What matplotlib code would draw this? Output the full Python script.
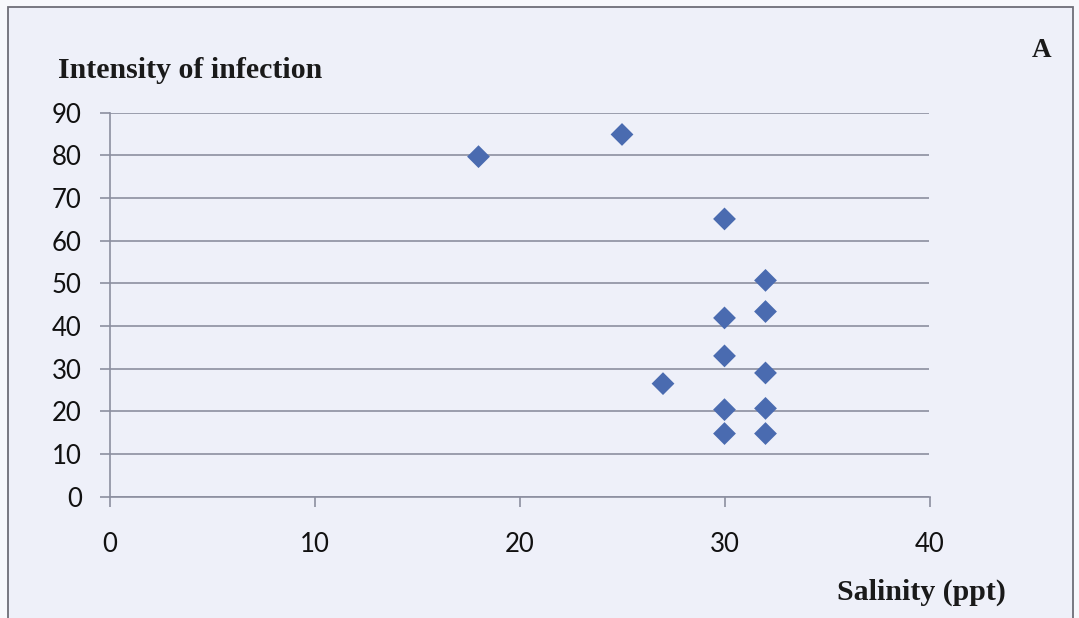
import matplotlib.pyplot as plt
from matplotlib.patches import Rectangle

# salinity (ppt) vs intensity of infection
salinity = [18, 25, 30, 32, 32, 30, 30, 27, 32, 30, 32, 30, 32]
intensity = [79.7, 84.9, 65.1, 50.7, 43.4, 41.9, 33.0, 26.5, 29.0, 20.4, 20.7, 14.8, 14.8]

x_ticks = [0, 10, 20, 30, 40]
y_ticks = [0, 10, 20, 30, 40, 50, 60, 70, 80, 90]

bg = '#eef0f9'
grid_col = '#8c8fa0'
marker_col = '#4a6bb0'

fig = plt.figure(figsize=(10.79, 6.18), dpi=100)
fig.patch.set_facecolor('#f7f8fc')

# chart frame
fig.patches.append(Rectangle((8 / 1079, -0.05), (1073 - 8) / 1079, 1 - 7 / 618 + 0.05,
                             transform=fig.transFigure, facecolor=bg,
                             edgecolor='#6e6e78', linewidth=1.3, zorder=-1))

ax = fig.add_axes([109.5 / 1079, 1 - 496.7 / 618, 820 / 1079, (496.7 - 112.7) / 618])
ax.set_facecolor('none')

ax.scatter(salinity, intensity, marker='D', s=135, color=marker_col,
           edgecolors='none', zorder=3)

ax.set_xlim(0, 40)
ax.set_ylim(0, 90)
ax.set_xticks(x_ticks)
ax.set_yticks(y_ticks)
ax.grid(axis='y', color=grid_col, linewidth=1.2)
ax.set_axisbelow(True)

for s in ['top', 'right']:
    ax.spines[s].set_visible(False)
for s in ['left', 'bottom']:
    ax.spines[s].set_color(grid_col)
    ax.spines[s].set_linewidth(1.2)

ax.tick_params(axis='both', colors=grid_col, width=1.2, length=7.5,
               labelcolor='#111111', labelsize=18.5)
ax.tick_params(axis='x', pad=18)
ax.tick_params(axis='y', pad=12.5)
for lab in ax.get_xticklabels() + ax.get_yticklabels():
    lab.set_family('Lato')

fig.text(58 / 1079, 1 - 78 / 618, 'Intensity of infection', family='Liberation Serif',
         weight='bold', fontsize=21.5, color='#1a1a1a', ha='left', va='baseline')
fig.text(921 / 1079, 1 - 600 / 618, 'Salinity (ppt)', family='Liberation Serif',
         weight='bold', fontsize=21.5, color='#1a1a1a', ha='center', va='baseline')
fig.text(1042 / 1079, 1 - 57 / 618, 'A', family='Liberation Serif',
         weight='bold', fontsize=19.5, color='#1a1a1a', ha='center', va='baseline')

fig.savefig('out.png', dpi=100, facecolor=fig.get_facecolor())
